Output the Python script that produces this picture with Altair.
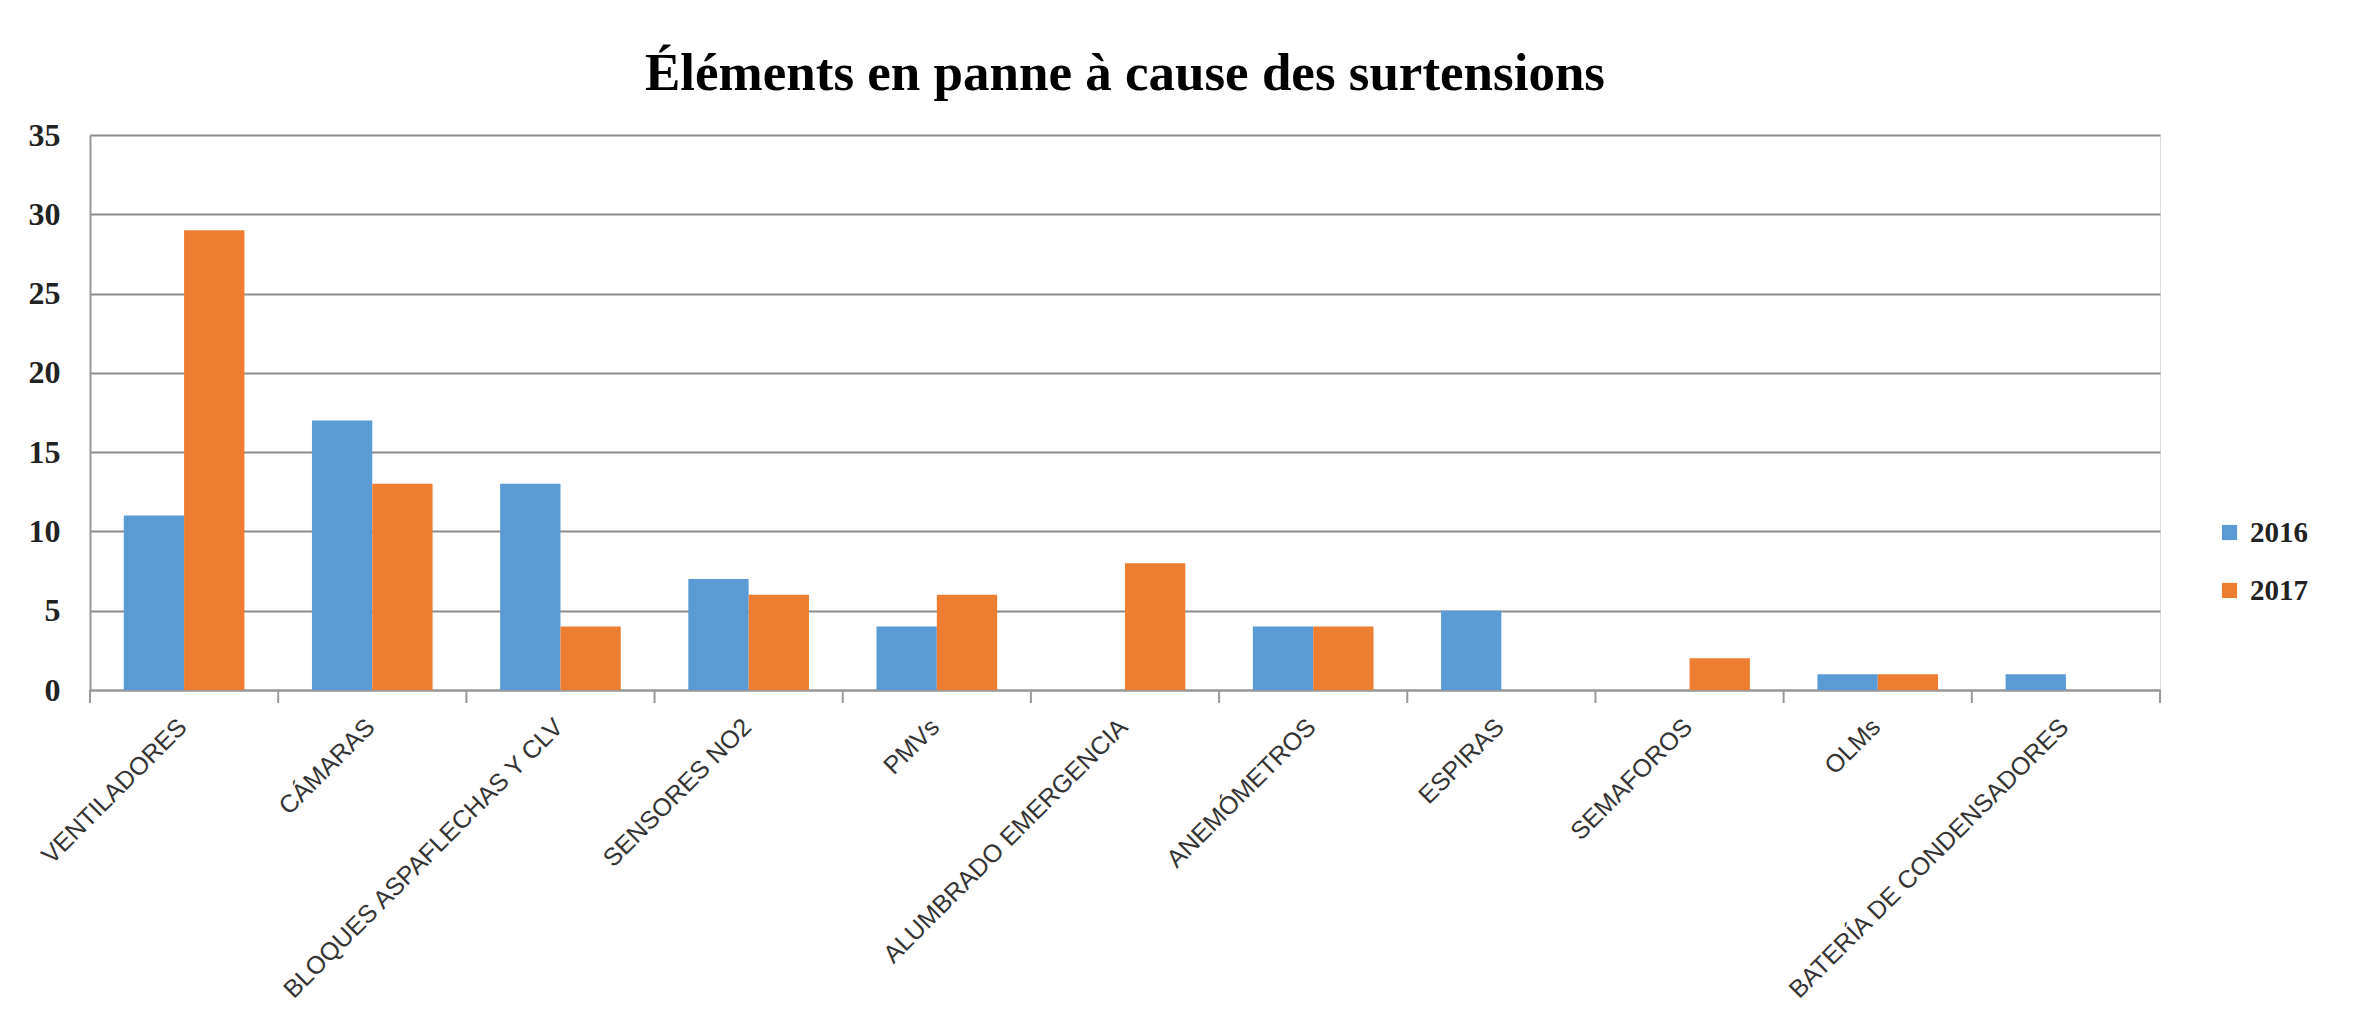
import altair as alt
import pandas as pd

categories = ["VENTILADORES", "CÁMARAS", "BLOQUES ASPAFLECHAS Y CLV", "SENSORES NO2", "PMVs",
              "ALUMBRADO EMERGENCIA", "ANEMÓMETROS", "ESPIRAS", "SEMAFOROS", "OLMs",
              "BATERÍA DE CONDENSADORES"]
series_2016 = [11, 17, 13, 7, 4, 0, 4, 5, 0, 1, 1]
series_2017 = [29, 13, 4, 6, 6, 8, 4, 0, 2, 1, 0]
years = ["2016", "2017"]
y_ticks = [0, 5, 10, 15, 20, 25, 30, 35]

rows = []
for c, a, b in zip(categories, series_2016, series_2017):
    rows.append({"cat": c, "year": "2016", "value": a})
    rows.append({"cat": c, "year": "2017", "value": b})
df = pd.DataFrame(rows)
cat_df = pd.DataFrame({"cat": categories})
last_df = pd.DataFrame({"cat": categories[-1:]})

x_scale = alt.Scale(domain=categories, paddingInner=0, paddingOuter=0)
x_axis = alt.Axis(labelAngle=-45, labelFont="Liberation Sans",
                  labelFontSize=25, labelColor="#333333", labelPadding=24, labelOffset=-10,
                  ticks=False, domainColor="#999999", domainWidth=2, labelLimit=600)

bars = alt.Chart(df).mark_bar().encode(
    x=alt.X("cat:N", sort=categories, title=None, scale=x_scale, axis=x_axis),
    xOffset=alt.XOffset("year:N", sort=years, scale=alt.Scale(paddingInner=0, paddingOuter=0.56)),
    y=alt.Y("value:Q", title=None,
            scale=alt.Scale(domain=[0, 35]),
            axis=alt.Axis(values=y_ticks, labelFont="Liberation Serif", labelFontWeight="bold",
                          labelFontSize=32, labelColor="#222222", labelPadding=30,
                          ticks=False, gridColor="#8c8c8c", gridWidth=2,
                          domainColor="#999999", domainWidth=2)),
    color=alt.Color("year:N", sort=years,
                    scale=alt.Scale(domain=years, range=["#5B9BD5", "#ED7D31"]),
                    legend=alt.Legend(title=None, orient="none", legendX=2125, legendY=383,
                                      symbolType="square", symbolSize=230, symbolStrokeWidth=0,
                                      labelFont="Liberation Serif", labelFontWeight="bold",
                                      labelFontSize=29, labelColor="#222222", rowPadding=28,
                                      symbolOffset=0, labelOffset=6)),
)

ticks_start = alt.Chart(cat_df).mark_rule(color="#999999", strokeWidth=2).encode(
    x=alt.X("cat:N", sort=categories, title=None, scale=x_scale, bandPosition=0, axis=x_axis),
    y=alt.value(555), y2=alt.value(568),
)
ticks_end = alt.Chart(last_df).mark_rule(color="#999999", strokeWidth=2).encode(
    x=alt.X("cat:N", sort=categories, title=None, scale=x_scale, bandPosition=1, axis=x_axis),
    y=alt.value(555), y2=alt.value(568),
)

chart = alt.layer(bars, ticks_start, ticks_end).properties(
    width=2070, height=555,
    title=alt.TitleParams("Éléments en panne à cause des surtensions", font="Liberation Serif",
                          fontWeight="bold", fontSize=53, color="#000000", anchor="middle",
                          offset=18),
    autosize=alt.AutoSizeParams(type="none"),
    padding={"left": 90, "top": 135, "right": 194, "bottom": 339},
).configure_view(stroke=None).configure(background="white")

chart.save("out.html", embed_options={"renderer": "svg", "actions": False})
